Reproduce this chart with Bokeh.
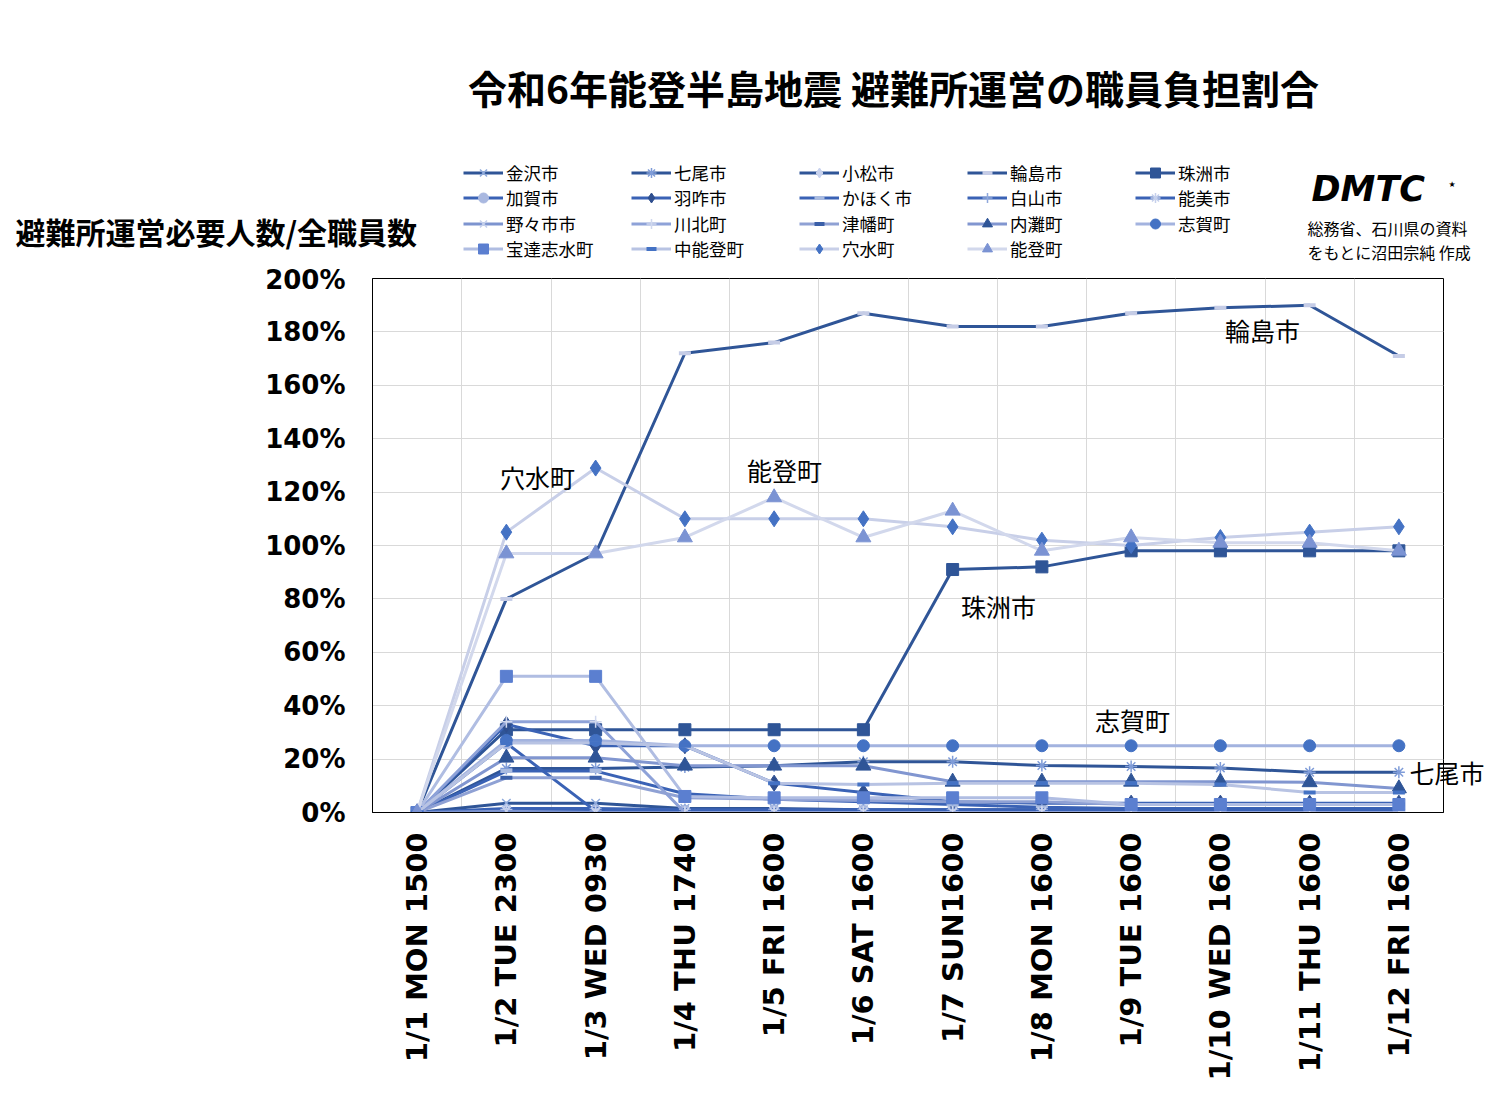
from bokeh.plotting import figure
from bokeh.models import (Range1d, FixedTicker, PrintfTickFormatter, Label, Legend, LegendItem,
                          LinearAxis)
from bokeh.embed import file_html
from bokeh.resources import INLINE

# ---------------- data ----------------
dates = ["1/1 MON 1500", "1/2 TUE 2300", "1/3 WED 0930", "1/4 THU 1740", "1/5 FRI 1600",
         "1/6 SAT 1600", "1/7 SUN1600", "1/8 MON 1600", "1/9 TUE 1600", "1/10 WED 1600",
         "1/11 THU 1600", "1/12 FRI 1600"]

kanazawa   = [0, 3.5, 3.5, 1.5, 1.5, 1.0, 1.0, 1.0, 0.8, 0.8, 0.8, 0.8]
nanao      = [0, 16.5, 16.5, 17, 17.5, 19, 19, 17.6, 17.2, 16.7, 15.1, 15.1]
komatsu    = [0, 0.3, 0.3, 0.3, 0.3, 0.3, 0.3, 0.3, 0.3, 0.3, 0.3, 0.3]
wajima     = [0, 80, 97, 172, 176, 187, 182, 182, 187, 189, 190, 171]
suzu       = [0, 31, 31, 31, 31, 31, 91, 92, 98, 98, 98, 98]
kaga       = [0, 26, 0.5, 0.5, 0.5, 0.5, 0.5, 0.5, 0.5, 0.5, 0.5, 0.5]
hakui      = [0, 33, 25, 25, 11, 7.5, 4, 3.5, 3.5, 3.5, 3.5, 3.5]
kahoku     = [0, 15.5, 15.5, 7, 5, 4, 3, 2, 1.5, 1.5, 1.5, 1.5]
hakusan    = [0, 1.5, 1.5, 1, 1, 1, 1, 1, 1, 1, 1, 1]
nomi       = [0, 1, 0.5, 0.3, 0.3, 0.3, 0.3, 0.3, 0.3, 0.3, 0.3, 0.3]
nonoichi   = [0, 0.5, 0, 0, 0, 0, 0, 0, 0, 0, 0, 0]
kawakita   = [0, 34, 34, 0, 0, 0, 0, 0, 0, 0, 0, 0]
tsubata    = [0, 13, 13, 5.5, 5, 4.5, 4, 4, 3, 3, 3, 3]
uchinada   = [0, 20.5, 20.5, 17.5, 17.5, 17.5, 11.5, 11.5, 11.5, 11.5, 11.3, 9]
shika      = [0, 27, 27, 25, 25, 25, 25, 25, 25, 25, 25, 25]
hodatsu    = [0, 51, 51, 6, 5.5, 5.5, 5.5, 5.5, 3, 3, 3, 3]
nakanoto   = [0, 26, 26, 25, 11, 10.5, 11, 11, 11, 10.5, 7.5, 7.5]
anamizu    = [0, 105, 129, 110, 110, 110, 107, 102, 100, 103, 105, 107]
noto       = [0, 97, 97, 103, 118, 103, 113, 98, 103, 101, 101, 98]

series_names = ["金沢市", "七尾市", "小松市", "輪島市", "珠洲市",
                "加賀市", "羽咋市", "かほく市", "白山市", "能美市",
                "野々市市", "川北町", "津幡町", "内灘町", "志賀町",
                "宝達志水町", "中能登町", "穴水町", "能登町"]
series_values = [kanazawa, nanao, komatsu, wajima, suzu,
                 kaga, hakui, kahoku, hakusan, nomi,
                 nonoichi, kawakita, tsubata, uchinada, shika,
                 hodatsu, nakanoto, anamizu, noto]

y_ticks = [0, 20, 40, 60, 80, 100, 120, 140, 160, 180, 200]
nanao_label_level = 15

# ---------------- styles ----------------
# (line colour, marker, marker colour, marker size)
styles = [
    ("#2F5597", "x",        "#8FAADC", 12),
    ("#2F5597", "asterisk", "#7F9CD8", 12),
    ("#2F5597", "diamond",  "#C9D3EE", 16),
    ("#2F5597", "dash",     "#C5CCE6", 12),
    ("#2F5597", "square",   "#2F5597", 12),
    ("#3A62B5", "circle",   "#A9B8E0", 12),
    ("#3A62B5", "diamond",  "#2F4F8F", 16),
    ("#3A62B5", "dash",     "#A9BBE0", 12),
    ("#3A62B5", "cross",    "#8FA8DC", 12),
    ("#3A62B5", "asterisk", "#C5D0EC", 12),
    ("#7D94CF", "x",        "#C5D0EC", 12),
    ("#8EA2D8", "cross",    "#D0D8EE", 12),
    ("#8FA1D4", "dash",     "#3A5FA8", 12),
    ("#8196D0", "triangle", "#2F5597", 15),
    ("#A3B3DF", "circle",   "#4472C4", 12),
    ("#B0BDE2", "square",   "#5B7FD0", 12),
    ("#B8C3E3", "dash",     "#4472C4", 12),
    ("#C8CFE8", "diamond",  "#4472C4", 16),
    ("#D2D8EC", "triangle", "#7B93D3", 15),
]

W = 1492
HH = 264                 # header height
FL, FT = 372, 278        # frame left / top (page px)
FRAME_W, FRAME_H = 1071, 534
MH = 1098 - HH
FR = W - FL - FRAME_W
FB = MH - (FT - HH) - FRAME_H


def draw_series(fig, x, ys, st):
    lc, mk, mc, ms = st
    lr = fig.line(x, ys, line_color=lc, line_width=3)
    if mk in ("x", "asterisk", "cross"):
        sr = fig.scatter(x, ys, marker=mk, size=ms, line_color=mc, line_width=1.5)
    elif mk == "dash":
        sr = fig.scatter(x, ys, marker=mk, size=ms, line_color=mc, line_width=4)
    else:
        sr = fig.scatter(x, ys, marker=mk, size=ms, fill_color=mc, line_color=mc)
    return lr, sr


# ---------------- header figure (title, legend, notes) ----------------
h = figure(width=W, height=HH, output_backend="svg", toolbar_location=None,
           x_range=Range1d(0, W), y_range=Range1d(HH, 0),
           x_axis_type=None, y_axis_type=None,
           min_border_left=0, min_border_right=0, min_border_top=0, min_border_bottom=0)
h.grid.visible = False
h.outline_line_color = None
h.background_fill_color = "white"
h.border_fill_color = "white"

ROW_H = 25
row_centers = [172, 197.5, 223, 248.5]
for r in range(4):
    items = []
    for name, st in list(zip(series_names, styles))[r * 5:(r + 1) * 5]:
        lr, sr = draw_series(h, [-50, -40], [-50, -50], st)   # off-canvas, legend samples only
        items.append(LegendItem(label=name, renderers=[lr, sr]))
    lg = Legend(items=items, orientation="horizontal",
                location=(463, HH - (row_centers[r] + ROW_H / 2)),
                padding=0, margin=0, spacing=0,
                glyph_width=40, glyph_height=ROW_H, label_height=ROW_H, label_width=125,
                label_standoff=3, label_text_font="Noto Sans CJK JP",
                label_text_font_size="17.5px", label_text_color="black",
                background_fill_alpha=0, border_line_alpha=0)
    h.add_layout(lg, "center")


def hlab(text, px, py, size, align="left", bold=False, font="Noto Sans CJK JP", style=None):
    h.add_layout(Label(x=px, y=py, text=text, text_align=align, text_baseline="middle",
                       text_font=font, text_font_size=size,
                       text_font_style=style or ("bold" if bold else "normal"),
                       text_color="black"))


hlab("令和6年能登半島地震 避難所運営の職員負担割合", 893, 86, "39px", align="center", bold=True)
hlab("避難所運営必要人数/全職員数", 15, 230, "30px", bold=True)
hlab("総務省、石川県の資料", 1307, 227, "16px")
hlab("をもとに沼田宗純 作成", 1307, 251, "16px")
hlab("DMTC", 1311, 188, "35px", font="DejaVu Sans", style="bold italic")
hlab("★", 1448, 184, "8px", font="DejaVu Sans")

# ---------------- main chart ----------------
p = figure(width=W, height=MH, output_backend="svg", toolbar_location=None,
           x_range=Range1d(-0.5, 11.5), y_range=Range1d(0, 200),
           min_border_left=FL, min_border_right=FR, min_border_top=FT - HH,
           min_border_bottom=FB)
p.background_fill_color = "white"
p.border_fill_color = "white"
p.outline_line_color = "black"
p.outline_line_width = 1

p.xaxis.ticker = FixedTicker(ticks=list(range(len(dates))))
p.xaxis.major_label_overrides = {i: d for i, d in enumerate(dates)}
p.xaxis.major_label_orientation = 1.5707963
p.xaxis.major_label_text_font = "DejaVu Sans"
p.xaxis.major_label_text_font_style = "bold"
p.xaxis.major_label_text_font_size = "29px"
p.xaxis.major_label_text_color = "black"
p.xaxis.major_label_standoff = 14
p.xaxis.major_tick_line_color = None
p.xaxis.minor_tick_line_color = None
p.xaxis.axis_line_color = "black"

p.yaxis.ticker = FixedTicker(ticks=y_ticks)
p.yaxis.formatter = PrintfTickFormatter(format="%d%%")
p.yaxis.major_label_text_font = "DejaVu Sans"
p.yaxis.major_label_text_font_style = "bold"
p.yaxis.major_label_text_font_size = "26px"
p.yaxis.major_label_text_color = "black"
p.yaxis.major_label_standoff = 21
p.yaxis.major_tick_line_color = None
p.yaxis.minor_tick_line_color = None
p.yaxis.axis_line_color = "black"

# label for 七尾市 to the right of its last point
ra = LinearAxis(ticker=FixedTicker(ticks=[nanao_label_level]),
                major_label_overrides={nanao_label_level: "七尾市"},
                axis_line_color=None, major_tick_line_color=None, minor_tick_line_color=None,
                major_tick_in=0, major_tick_out=0, major_label_standoff=-34,
                major_label_text_font="Noto Sans CJK JP", major_label_text_font_size="25px",
                major_label_text_color="black")
p.add_layout(ra, "right")

p.xgrid.ticker = FixedTicker(ticks=[i + 0.5 for i in range(len(dates) - 1)])
p.xgrid.grid_line_color = "#D9D9D9"
p.ygrid.grid_line_color = "#D9D9D9"

xs = list(range(len(dates)))
for vals, st in zip(series_values, styles):
    draw_series(p, xs, vals, st)


def X(px):
    return (px - FL) / (FRAME_W / 12.0) - 0.5


def Y(py):
    return (FT + FRAME_H - py) / (FRAME_H / 200.0)


def lab(text, px, py, size, align="center"):
    p.add_layout(Label(x=X(px), y=Y(py), text=text, text_align=align, text_baseline="middle",
                       text_font="Noto Sans CJK JP", text_font_size=size, text_color="black"))


lab("輪島市", 1262, 329, "25px")
lab("穴水町", 537, 476, "25px")
lab("能登町", 784, 469, "25px")
lab("珠洲市", 998, 605, "25px")
lab("志賀町", 1132, 719, "25px")

open("out.html", "w").write(file_html([h, p], INLINE))
